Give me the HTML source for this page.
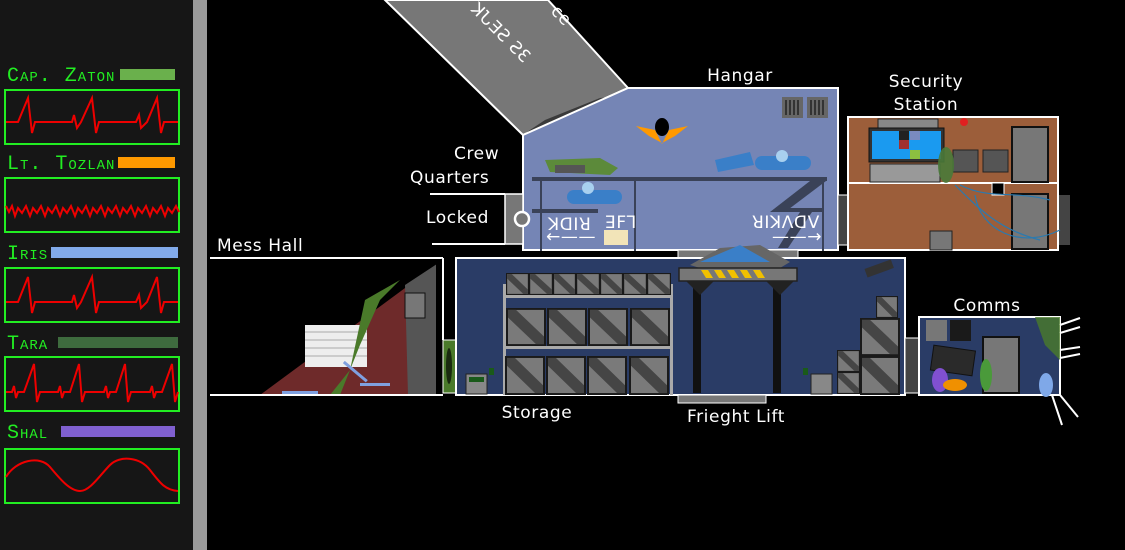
<!DOCTYPE html>
<html><head><meta charset="utf-8"><style>
html,body{margin:0;padding:0;background:#000;width:1125px;height:550px;overflow:hidden}
svg{display:block}
.sb{font-family:"Liberation Mono",monospace;font-size:20px;fill:#22ee22;font-variant:small-caps;letter-spacing:1px}
.lb{font-family:"DejaVu Sans","Liberation Sans",sans-serif;font-size:17px;fill:#fff;letter-spacing:0.6px}
</style></head><body>
<svg width="1125" height="550" viewBox="0 0 1125 550" xmlns="http://www.w3.org/2000/svg">
<defs>
<symbol id="crate" viewBox="0 0 40 40" preserveAspectRatio="none">
<rect x="1" y="1" width="38" height="38" fill="#7a7a7a" stroke="#1a1a1a" stroke-width="2"/>
<polygon points="2,2 10,2 38,30 38,38 30,38 2,10" fill="#454545"/>
</symbol>
</defs>
<rect width="1125" height="550" fill="#000"/>
<rect x="0" y="0" width="193" height="550" fill="#161616"/>
<rect x="193" y="0" width="14" height="550" fill="#9a9a9a"/>

<text x="7" y="81" class="sb">Cap. Zaton</text>
<rect x="120" y="69" width="55" height="11" fill="#6ab04c"/>
<rect x="5" y="90" width="174" height="54" fill="none" stroke="#22ee22" stroke-width="2"/>
<polyline points="6,122 18,122 28,98 32,133 35,122 72,122 74,115 77,128 81,122 92,98 96,133 99,122 136,122 139,115 141,128 147,122 157,98 161,133 164,122 178,122" fill="none" stroke="#ee0000" stroke-width="2"/>

<text x="7" y="169" class="sb">Lt. Tozlan</text>
<rect x="118" y="157" width="57" height="11" fill="#ff9900"/>
<rect x="5" y="178" width="174" height="54" fill="none" stroke="#22ee22" stroke-width="2"/>
<polyline points="6,206 9,212 12,206 15,216 18,208 22,213 26,206 30,216 33,208 37,213 41,206 45,216 48,208 52,213 56,206 60,216 63,208 67,213 71,206 75,216 78,208 82,213 86,206 90,216 93,208 97,213 101,206 105,216 108,208 112,213 116,206 120,216 123,208 127,213 131,206 135,216 138,208 142,213 146,206 150,216 153,208 157,213 161,206 165,216 168,208 172,213 176,206 179,212" fill="none" stroke="#ee0000" stroke-width="2"/>

<text x="7" y="259" class="sb">Iris</text>
<rect x="51" y="247" width="127" height="11" fill="#82aaea"/>
<rect x="5" y="268" width="174" height="54" fill="none" stroke="#22ee22" stroke-width="2"/>
<polyline points="6,302 18,302 28,277 32,313 35,302 72,302 74,295 77,308 81,302 92,277 96,313 99,302 136,302 139,295 141,308 147,302 157,277 161,313 164,302 178,302" fill="none" stroke="#ee0000" stroke-width="2"/>

<text x="7" y="349" class="sb">Tara</text>
<rect x="58" y="337" width="120" height="11" fill="#3e6b3e"/>
<rect x="5" y="357" width="174" height="54" fill="none" stroke="#22ee22" stroke-width="2"/>
<polyline points="6,392 12,392 14,386 16,398 18,392 24,392 34,364 37,402 40,392 58,392 60,386 62,398 64,392 70,392 79,364 82,402 85,392 104,392 106,386 108,398 110,392 116,392 125,364 128,402 131,392 150,392 152,386 154,398 156,392 162,392 172,364 175,402 178,392" fill="none" stroke="#ee0000" stroke-width="2"/>

<text x="7" y="438" class="sb">Shal</text>
<rect x="61" y="426" width="114" height="11" fill="#8060d0"/>
<rect x="5" y="449" width="174" height="54" fill="none" stroke="#22ee22" stroke-width="2"/>
<path d="M6,477 C16,460 40,455 50,467 S 70,491 80,491 S 100,475 110,465 S 140,457 150,470 S 165,490 178,491" fill="none" stroke="#ee0000" stroke-width="2"/>

<!-- ramp -->
<polygon points="385,0 548,0 628,88 523,135" fill="#777" stroke="#fff" stroke-width="2"/>
<polygon points="523,135 628,88 628,95 600,98 545,120 530,130" fill="#3a3a3a"/>
<text x="0" y="0" class="lb" transform="translate(470,10) rotate(45)" font-size="22">ꓘՆƎƧ ƧƐ</text>
<text x="550" y="12" class="lb" transform="rotate(45 550 12)">ce</text>

<!-- hangar -->
<polygon points="523,135 628,88 838,88 838,250 523,250" fill="#7585b5" stroke="#fff" stroke-width="2"/>
<rect x="782" y="97" width="21" height="21" fill="#666"/><rect x="807" y="97" width="21" height="21" fill="#666"/>
<g stroke="#222" stroke-width="1.5"><line x1="786" y1="100" x2="786" y2="115"/><line x1="790" y1="100" x2="790" y2="115"/><line x1="794" y1="100" x2="794" y2="115"/><line x1="798" y1="100" x2="798" y2="115"/><line x1="811" y1="100" x2="811" y2="115"/><line x1="815" y1="100" x2="815" y2="115"/><line x1="819" y1="100" x2="819" y2="115"/><line x1="823" y1="100" x2="823" y2="115"/></g>
<polygon points="636,126 655,130 662,144 669,130 688,126 675,136 662,143 649,136" fill="#ff9900"/>
<ellipse cx="662" cy="127" rx="7" ry="9" fill="#000"/>
<g fill="#3a4258"><rect x="532" y="177" width="295" height="4"/><rect x="532" y="209" width="66" height="4"/><polygon points="810,181 826,181 785,212 770,212"/><rect x="778" y="208" width="46" height="4"/><polygon points="800,212 812,212 788,248 778,248"/><rect x="540" y="181" width="2" height="70"/><rect x="634" y="181" width="2" height="70"/><rect x="822" y="181" width="2" height="70"/></g>
<polygon points="545,160 600,158 618,168 610,175 550,172" fill="#5c8a3a"/><rect x="555" y="165" width="30" height="8" fill="#555"/>
<rect x="567" y="190" width="55" height="14" rx="7" fill="#3a7fc8"/><circle cx="588" cy="188" r="6" fill="#a8d0ef"/>
<rect x="755" y="156" width="56" height="14" rx="7" fill="#3a7fc8"/><circle cx="782" cy="156" r="6" fill="#a8d0ef"/>
<polygon points="715,160 750,152 754,165 718,172" fill="#3a7fc8"/>
<text x="548" y="230" class="lb" font-size="13">ꓘꓷꓲꓤ</text>
<text x="546" y="242" class="lb" font-size="12">←——</text>
<text x="605" y="228" class="lb" font-size="11">ꓱꓝꓶ</text>
<rect x="604" y="230" width="24" height="15" fill="#f2e4b8"/>
<text x="752" y="228" class="lb" font-size="13">ꓤꓲꓘꓥꓷꓦ</text>
<text x="772" y="242" class="lb" font-size="12">——→</text>
<text x="740" y="81" class="lb" text-anchor="middle">Hangar</text>

<!-- crew quarters -->
<line x1="430" y1="194" x2="505" y2="194" stroke="#fff" stroke-width="2"/>
<line x1="432" y1="244" x2="505" y2="244" stroke="#fff" stroke-width="2"/>
<rect x="505" y="194" width="18" height="50" fill="#777" stroke="#fff" stroke-width="1.5"/>
<circle cx="522" cy="219" r="7" fill="#777" stroke="#fff" stroke-width="2.5"/>
<text x="454" y="159" class="lb">Crew</text>
<text x="410" y="183" class="lb">Quarters</text>
<text x="426" y="223" class="lb">Locked</text>

<!-- security -->
<rect x="838" y="195" width="10" height="50" fill="#444" stroke="#fff" stroke-width="1"/>
<rect x="1058" y="195" width="12" height="50" fill="#444"/>
<rect x="848" y="117" width="210" height="133" fill="#9c5e3a" stroke="#fff" stroke-width="2"/>
<line x1="848" y1="183" x2="1058" y2="183" stroke="#fff" stroke-width="2"/>
<rect x="878" y="119" width="60" height="10" fill="#888" stroke="#222"/>
<rect x="869" y="128" width="75" height="34" fill="#333" stroke="#111"/>
<rect x="872" y="131" width="69" height="28" fill="#1a9af0"/>
<rect x="899" y="131" width="10" height="9" fill="#222"/><rect x="910" y="131" width="10" height="9" fill="#7a8ac0"/><rect x="899" y="140" width="10" height="9" fill="#a03030"/><rect x="910" y="150" width="10" height="9" fill="#8cc040"/>
<rect x="870" y="164" width="70" height="18" fill="#999" stroke="#222"/>
<rect x="953" y="150" width="25" height="22" fill="#555" stroke="#222"/><rect x="983" y="150" width="25" height="22" fill="#555" stroke="#222"/>
<rect x="1012" y="127" width="36" height="55" fill="#777" stroke="#111" stroke-width="2"/>
<rect x="1012" y="194" width="36" height="55" fill="#777" stroke="#111" stroke-width="2"/>
<rect x="992" y="183" width="12" height="12" fill="#000" stroke="#fff"/>
<rect x="930" y="231" width="22" height="19" fill="#777" stroke="#222"/>
<circle cx="964" cy="122" r="4" fill="#e02020"/>
<ellipse cx="946" cy="165" rx="8" ry="18" fill="#4a7a3a" opacity="0.9"/>
<path d="M955,185 C980,210 1000,230 1040,240 M960,185 C990,200 1010,190 1050,200 M975,195 C980,230 1020,250 1060,230" stroke="#2a7ab0" fill="none" stroke-width="1.2"/>
<text x="926" y="87" class="lb" text-anchor="middle">Security</text>
<text x="926" y="110" class="lb" text-anchor="middle">Station</text>

<!-- mess hall -->
<line x1="210" y1="258" x2="443" y2="258" stroke="#fff" stroke-width="2"/>
<polygon points="260,395 443,260 443,395" fill="#6e2a2a"/>
<polygon points="405,285 443,260 443,395 408,395" fill="#555"/>
<rect x="405" y="293" width="20" height="25" fill="#777" stroke="#111"/>
<rect x="305" y="325" width="62" height="42" fill="#eee"/>
<g stroke="#aaa"><line x1="305" y1="332" x2="367" y2="332"/><line x1="305" y1="340" x2="367" y2="340"/><line x1="305" y1="348" x2="367" y2="348"/><line x1="305" y1="356" x2="367" y2="356"/></g>
<polygon points="330,395 350,370 365,300 400,280 380,300 360,345 340,395" fill="#4a7a2a"/>
<rect x="340" y="370" width="30" height="3" fill="#7fa0e0" transform="rotate(40 355 372)"/>
<rect x="360" y="383" width="30" height="3" fill="#7fa0e0"/>
<rect x="282" y="391" width="36" height="3" fill="#7fa0e0"/>
<polygon points="443,258 443,395 436,395 436,262" fill="#000"/>
<line x1="210" y1="395" x2="443" y2="395" stroke="#fff" stroke-width="2"/>
<line x1="443" y1="258" x2="443" y2="340" stroke="#fff" stroke-width="2"/>
<text x="217" y="251" class="lb" font-size="16">Mess Hall</text>
<rect x="443" y="340" width="13" height="53" fill="#4a7a2a" stroke="#fff" stroke-width="1"/>
<ellipse cx="449" cy="366" rx="3" ry="18" fill="#1a2a10"/>

<!-- storage -->
<rect x="678" y="250" width="42" height="8" fill="#777" stroke="#fff"/>
<rect x="760" y="250" width="38" height="8" fill="#777" stroke="#fff"/>
<rect x="456" y="258" width="449" height="137" fill="#2a3c66" stroke="#fff" stroke-width="2"/>
<rect x="503" y="284" width="3" height="111" fill="#aaa"/><rect x="670" y="284" width="3" height="111" fill="#aaa"/>
<rect x="503" y="295" width="170" height="3" fill="#aaa"/><rect x="503" y="346" width="170" height="3" fill="#aaa"/>
<use href="#crate" x="506" y="273" width="23" height="22"/><use href="#crate" x="529" y="273" width="24" height="22"/><use href="#crate" x="553" y="273" width="23" height="22"/><use href="#crate" x="576" y="273" width="24" height="22"/><use href="#crate" x="600" y="273" width="23" height="22"/><use href="#crate" x="623" y="273" width="24" height="22"/><use href="#crate" x="647" y="273" width="24" height="22"/>
<use href="#crate" x="506" y="308" width="40" height="38"/><use href="#crate" x="547" y="308" width="40" height="38"/><use href="#crate" x="588" y="308" width="40" height="38"/><use href="#crate" x="630" y="308" width="40" height="38"/>
<use href="#crate" x="505" y="356" width="40" height="39"/><use href="#crate" x="546" y="356" width="40" height="39"/><use href="#crate" x="587" y="356" width="40" height="39"/><use href="#crate" x="629" y="356" width="40" height="39"/>
<rect x="466" y="374" width="21" height="20" fill="#888" stroke="#222"/><rect x="469" y="377" width="15" height="5" fill="#1a5a1a"/>
<rect x="489" y="368" width="5" height="7" fill="#1a5a1a"/>
<rect x="693" y="285" width="8" height="108" fill="#111"/><rect x="773" y="285" width="8" height="108" fill="#111"/>
<polygon points="685,280 715,280 700,295" fill="#222"/><polygon points="765,280 795,280 780,295" fill="#222"/>
<polygon points="690,265 720,248 760,245 790,262 780,268 700,268" fill="#666"/>
<polygon points="700,262 740,245 770,262" fill="#3a7fc8"/>
<rect x="679" y="268" width="118" height="13" fill="#777" stroke="#222" stroke-width="1.5"/>
<g fill="#f0c000"><polygon points="701,270 708,270 713,278 706,278"/><polygon points="714,270 721,270 726,278 719,278"/><polygon points="727,270 734,270 739,278 732,278"/><polygon points="740,270 747,270 752,278 745,278"/><polygon points="753,270 760,270 765,278 758,278"/></g>
<rect x="678" y="395" width="88" height="8" fill="#777" stroke="#fff"/>
<use href="#crate" x="876" y="296" width="22" height="22"/><use href="#crate" x="860" y="318" width="40" height="38"/><use href="#crate" x="860" y="356" width="40" height="39"/><use href="#crate" x="837" y="350" width="23" height="22"/><use href="#crate" x="837" y="372" width="23" height="22"/>
<rect x="811" y="374" width="21" height="20" fill="#888" stroke="#222"/>
<rect x="803" y="368" width="5" height="7" fill="#1a5a1a"/>
<rect x="865" y="264" width="28" height="9" fill="#333" transform="rotate(-20 879 268)"/>
<text x="537" y="418" class="lb" font-size="16" text-anchor="middle">Storage</text>
<text x="736" y="422" class="lb" font-size="16" text-anchor="middle">Frieght Lift</text>

<!-- comms -->
<rect x="905" y="338" width="14" height="55" fill="#444" stroke="#fff" stroke-width="1"/>
<rect x="919" y="317" width="141" height="78" fill="#2a3c66" stroke="#fff" stroke-width="2"/>
<rect x="926" y="320" width="21" height="21" fill="#777"/><rect x="950" y="320" width="21" height="21" fill="#1a1a1a"/>
<rect x="983" y="337" width="36" height="56" fill="#777" stroke="#111" stroke-width="2"/>
<rect x="932" y="348" width="42" height="25" fill="#2a2a2a" stroke="#111" transform="rotate(8 953 360)"/>
<polygon points="1035,317 1060,317 1060,360 1045,345" fill="#4a7a2a" opacity="0.8"/>
<ellipse cx="940" cy="380" rx="8" ry="12" fill="#8050d0"/><ellipse cx="955" cy="385" rx="12" ry="6" fill="#f09000"/>
<ellipse cx="986" cy="375" rx="6" ry="16" fill="#4a9a3a"/>
<ellipse cx="1046" cy="385" rx="7" ry="12" fill="#7fa8e8"/>
<g stroke="#fff" stroke-width="2"><line x1="1060" y1="325" x2="1080" y2="318"/><line x1="1060" y1="333" x2="1080" y2="327"/><line x1="1060" y1="350" x2="1080" y2="347"/><line x1="1060" y1="358" x2="1080" y2="354"/><line x1="1060" y1="395" x2="1078" y2="417"/><line x1="1052" y1="395" x2="1062" y2="425"/></g>
<text x="987" y="311" class="lb" font-size="16" text-anchor="middle">Comms</text>
</svg>
</body></html>
